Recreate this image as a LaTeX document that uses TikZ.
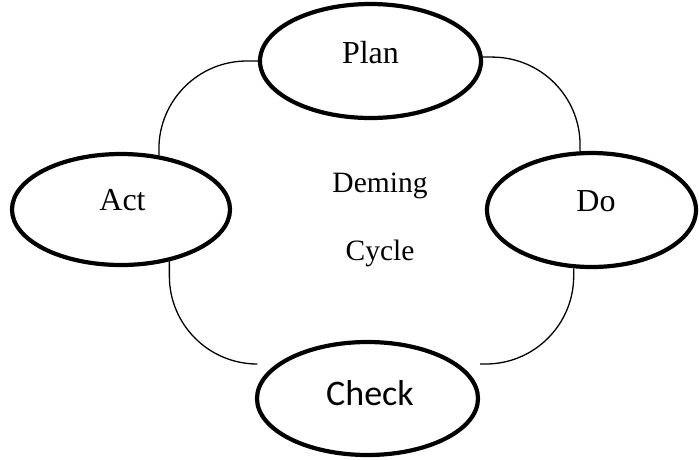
\documentclass[tikz,border=0pt]{standalone}
\usepackage{fontspec}
\setmainfont{Liberation Serif}
\newfontfamily\checkfont{Carlito}
\usetikzlibrary{shapes.geometric}
\begin{document}
\begin{tikzpicture}[x=1pt,y=-1pt,
  phase/.style={ellipse,draw,line width=4.2pt,inner sep=0pt},
  link/.style={draw,line width=1.3pt,rounded corners=88pt},
  word/.style={anchor=base,inner sep=0pt,font=\fontsize{32}{38}\selectfont},
  centre/.style={anchor=base,inner sep=0pt,font=\fontsize{29.5}{34}\selectfont}]
\useasboundingbox (0,0) rectangle (699,459);

% the four phases of the cycle
\node[phase,minimum width=221pt,minimum height=114pt] (plan)  at (370.5,61)   {};
\node[phase,minimum width=209pt,minimum height=114pt] (do)    at (591.5,210)  {};
\node[phase,minimum width=221pt,minimum height=113pt] (check) at (367.5,398.5) {};
\node[phase,minimum width=218pt,minimum height=111pt] (act)   at (121,209.5)  {};

% phase labels
\node[word] (plantext)  at (370.5,63) {Plan};
\node[word] (dotext)    at (596,211)  {Do};
\node[word] (acttext)   at (122.5,210) {Act};
\node[anchor=base,inner sep=0pt,font=\checkfont\fontsize{36}{42}\selectfont] (checktext) at (370,405) {Check};

% title in the middle
\node[centre] (deming) at (380,192) {Deming};
\node[centre] (cycle)  at (380,260) {Cycle};

% rounded links between neighbouring phases
\draw[link] (plan.west) -| (act.55);
\draw[link] (plan.2) -| (do.101);
\draw[link] (act.-47) |- ([yshift=34.5pt]check.west);
\draw[link] (do.-107) |- ([yshift=34.5pt]check.east);
\end{tikzpicture}
\end{document}
